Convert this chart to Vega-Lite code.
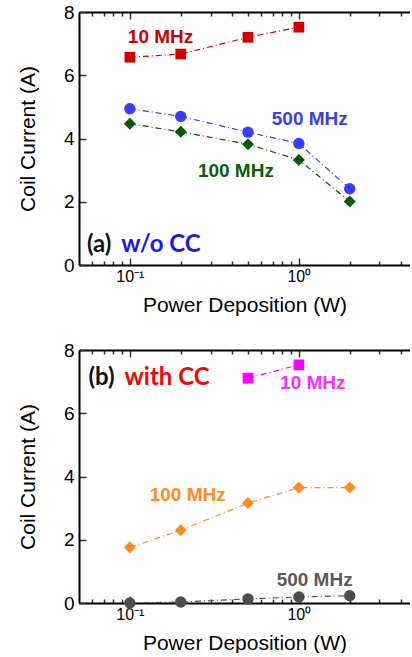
{
  "$schema": "https://vega.github.io/schema/vega-lite/v6.json",
  "padding": {"left": 17, "top": 3, "right": 0, "bottom": 0},
  "background": "white",
  "spacing": 85,
  "bounds": "flush",
  "config": {
    "view": {"stroke": null},
    "axis": {
      "grid": false,
      "domainColor": "black",
      "domainWidth": 2,
      "tickColor": "#333333",
      "tickWidth": 1.5,
      "labelFont": "Liberation Sans",
      "labelColor": "black",
      "titleFont": "Liberation Sans",
      "titleFontWeight": "normal",
      "titleColor": "black",
      "titleFontSize": 21
    },
    "text": {"font": "Liberation Sans"}
  },
  "datasets": {
    "series": [
      {"panel": "a", "series": "10 MHz", "power": 0.1, "current": 6.57},
      {"panel": "a", "series": "10 MHz", "power": 0.2, "current": 6.67},
      {"panel": "a", "series": "10 MHz", "power": 0.5, "current": 7.20},
      {"panel": "a", "series": "10 MHz", "power": 1.0, "current": 7.52},
      {"panel": "a", "series": "500 MHz", "power": 0.1, "current": 4.94},
      {"panel": "a", "series": "500 MHz", "power": 0.2, "current": 4.70},
      {"panel": "a", "series": "500 MHz", "power": 0.5, "current": 4.20},
      {"panel": "a", "series": "500 MHz", "power": 1.0, "current": 3.84},
      {"panel": "a", "series": "500 MHz", "power": 2.0, "current": 2.41},
      {"panel": "a", "series": "100 MHz", "power": 0.1, "current": 4.47},
      {"panel": "a", "series": "100 MHz", "power": 0.2, "current": 4.21},
      {"panel": "a", "series": "100 MHz", "power": 0.5, "current": 3.82},
      {"panel": "a", "series": "100 MHz", "power": 1.0, "current": 3.32},
      {"panel": "a", "series": "100 MHz", "power": 2.0, "current": 2.01},
      {"panel": "b", "series": "10 MHz", "power": 0.5, "current": 7.11},
      {"panel": "b", "series": "10 MHz", "power": 1.0, "current": 7.53},
      {"panel": "b", "series": "100 MHz", "power": 0.1, "current": 1.76},
      {"panel": "b", "series": "100 MHz", "power": 0.2, "current": 2.30},
      {"panel": "b", "series": "100 MHz", "power": 0.5, "current": 3.16},
      {"panel": "b", "series": "100 MHz", "power": 1.0, "current": 3.65},
      {"panel": "b", "series": "100 MHz", "power": 2.0, "current": 3.65},
      {"panel": "b", "series": "500 MHz", "power": 0.1, "current": 0.0},
      {"panel": "b", "series": "500 MHz", "power": 0.2, "current": 0.03},
      {"panel": "b", "series": "500 MHz", "power": 0.5, "current": 0.13},
      {"panel": "b", "series": "500 MHz", "power": 1.0, "current": 0.19},
      {"panel": "b", "series": "500 MHz", "power": 2.0, "current": 0.23}
    ],
    "labels": [
      {"panel": "a", "label": "10 MHz", "power": 0.152, "current": 7.2},
      {"panel": "a", "label": "500 MHz", "power": 1.16, "current": 4.63},
      {"panel": "a", "label": "100 MHz", "power": 0.424, "current": 2.97},
      {"panel": "b", "label": "10 MHz", "power": 1.21, "current": 6.95},
      {"panel": "b", "label": "100 MHz", "power": 0.22, "current": 3.4},
      {"panel": "b", "label": "500 MHz", "power": 1.24, "current": 0.72}
    ],
    "tags": [
      {"panel": "a", "tag": "(a)", "power": 0.0557, "current": 0.62},
      {"panel": "a", "tag": "w/o CC", "power": 0.0888, "current": 0.62},
      {"panel": "b", "tag": "(b)", "power": 0.0569, "current": 7.1},
      {"panel": "b", "tag": "with CC", "power": 0.093, "current": 7.1}
    ]
  },
  "vconcat": [
    {
      "width": 331,
      "height": 253,
      "resolve": {"scale": {"color": "independent", "shape": "independent"}, "axis": {"x": "independent"}},
      "layer": [
        {
          "data": {"name": "series"},
          "transform": [{"filter": "datum.panel === 'a'"}],
          "mark": {"type": "line", "strokeDash": [6, 3, 1, 3], "strokeWidth": 1.2},
          "encoding": {
            "x": {"field": "power", "type": "quantitative", "scale": {"type": "log", "domain": [0.05, 4.546], "nice": false},
              "axis": {"orient": "bottom", "title": "Power Deposition (W)", "values": [0.06, 0.07, 0.08, 0.09, 0.1, 0.2, 0.3, 0.4, 0.5, 0.6, 0.7, 0.8, 0.9, 1, 2, 3, 4],
                "labelExpr": "datum.value === 0.1 ? '10⁻¹' : (datum.value === 1 ? '10⁰' : '')",
                "tickSize": {"condition": {"test": "datum.value === 0.1 || datum.value === 1", "value": -7}, "value": -4},
                "labelFontSize": 16, "labelPadding": 10, "titlePadding": 7, "labelOverlap": false, "labelFlush": false}},
            "y": {"field": "current", "type": "quantitative", "scale": {"domain": [0, 8], "nice": false},
              "axis": {"title": "Coil Current (A)", "values": [0, 0.5, 1, 1.5, 2, 2.5, 3, 3.5, 4, 4.5, 5, 5.5, 6, 6.5, 7, 7.5, 8],
                "labelExpr": "datum.value % 2 === 0 ? datum.label : ''",
                "tickSize": {"condition": {"test": "datum.value % 2 === 0", "value": -7}, "value": -4},
                "labelFontSize": 19, "labelPadding": 12, "titlePadding": 25, "labelOverlap": false, "labelFlush": false}},
            "color": {"field": "series", "type": "nominal", "legend": null,
              "scale": {"domain": ["10 MHz", "500 MHz", "100 MHz"], "range": ["#d40000", "#3b3bff", "#005c00"]}}
          }
        },
        {
          "data": {"name": "series"},
          "transform": [{"filter": "datum.panel === 'a'"}],
          "mark": {"type": "point", "filled": true, "opacity": 1},
          "encoding": {
            "x": {"field": "power", "type": "quantitative", "axis": {"orient": "top", "title": null, "labels": false, "domainWidth": 2,
              "values": [0.06, 0.07, 0.08, 0.09, 0.1, 0.2, 0.3, 0.4, 0.5, 0.6, 0.7, 0.8, 0.9, 1, 2, 3, 4],
              "tickSize": {"condition": {"test": "datum.value === 0.1 || datum.value === 1", "value": -7}, "value": -4}}},
            "y": {"field": "current", "type": "quantitative"},
            "color": {"field": "series", "type": "nominal", "legend": null,
              "scale": {"domain": ["10 MHz", "500 MHz", "100 MHz"], "range": ["#d40000", "#3b3bff", "#005c00"]}},
            "shape": {"field": "series", "type": "nominal", "legend": null,
              "scale": {"domain": ["10 MHz", "500 MHz", "100 MHz"], "range": ["square", "circle", "diamond"]}},
            "size": {"field": "series", "type": "nominal", "legend": null,
              "scale": {"domain": ["10 MHz", "500 MHz", "100 MHz"], "range": [115, 144, 180]}}
          }
        },
        {
          "data": {"name": "labels"},
          "transform": [{"filter": "datum.panel === 'a'"}],
          "mark": {"type": "text", "font": "Liberation Sans", "fontWeight": "bold", "fontSize": 19, "align": "center", "baseline": "middle"},
          "encoding": {
            "x": {"field": "power", "type": "quantitative", "axis": null},
            "y": {"field": "current", "type": "quantitative"},
            "text": {"field": "label"},
            "color": {"field": "label", "type": "nominal", "legend": null,
              "scale": {"domain": ["10 MHz", "500 MHz", "100 MHz"], "range": ["#cc0000", "#3c3cf0", "#0b5e0b"]}}
          }
        },
        {
          "data": {"name": "tags"},
          "transform": [{"filter": "datum.panel === 'a'"}],
          "mark": {"type": "text", "font": "Lato", "fontWeight": "bold", "fontSize": 24, "align": "left", "baseline": "middle"},
          "encoding": {
            "x": {"field": "power", "type": "quantitative", "axis": null},
            "y": {"field": "current", "type": "quantitative"},
            "text": {"field": "tag"},
            "color": {"field": "tag", "type": "nominal", "legend": null,
              "scale": {"domain": ["(a)", "w/o CC"], "range": ["#111111", "#1a1aee"]}}
          }
        }
      ]
    },
    {
      "width": 331,
      "height": 253,
      "resolve": {"scale": {"color": "independent", "shape": "independent"}, "axis": {"x": "independent"}},
      "layer": [
        {
          "data": {"name": "series"},
          "transform": [{"filter": "datum.panel === 'b'"}],
          "mark": {"type": "line", "strokeDash": [6, 3, 1, 3], "strokeWidth": 1.2},
          "encoding": {
            "x": {"field": "power", "type": "quantitative", "scale": {"type": "log", "domain": [0.05, 4.546], "nice": false},
              "axis": {"orient": "bottom", "title": "Power Deposition (W)", "values": [0.06, 0.07, 0.08, 0.09, 0.1, 0.2, 0.3, 0.4, 0.5, 0.6, 0.7, 0.8, 0.9, 1, 2, 3, 4],
                "labelExpr": "datum.value === 0.1 ? '10⁻¹' : (datum.value === 1 ? '10⁰' : '')",
                "tickSize": {"condition": {"test": "datum.value === 0.1 || datum.value === 1", "value": -7}, "value": -4},
                "labelFontSize": 16, "labelPadding": 10, "titlePadding": 7, "labelOverlap": false, "labelFlush": false}},
            "y": {"field": "current", "type": "quantitative", "scale": {"domain": [0, 8], "nice": false},
              "axis": {"title": "Coil Current (A)", "values": [0, 0.5, 1, 1.5, 2, 2.5, 3, 3.5, 4, 4.5, 5, 5.5, 6, 6.5, 7, 7.5, 8],
                "labelExpr": "datum.value % 2 === 0 ? datum.label : ''",
                "tickSize": {"condition": {"test": "datum.value % 2 === 0", "value": -7}, "value": -4},
                "labelFontSize": 19, "labelPadding": 12, "titlePadding": 25, "labelOverlap": false, "labelFlush": false}},
            "color": {"field": "series", "type": "nominal", "legend": null,
              "scale": {"domain": ["10 MHz", "100 MHz", "500 MHz"], "range": ["#ff00ff", "#ff8c1a", "#4d4d4d"]}}
          }
        },
        {
          "data": {"name": "series"},
          "transform": [{"filter": "datum.panel === 'b'"}],
          "mark": {"type": "point", "filled": true, "opacity": 1},
          "encoding": {
            "x": {"field": "power", "type": "quantitative", "axis": {"orient": "top", "title": null, "labels": false, "domainWidth": 2,
              "values": [0.06, 0.07, 0.08, 0.09, 0.1, 0.2, 0.3, 0.4, 0.5, 0.6, 0.7, 0.8, 0.9, 1, 2, 3, 4],
              "tickSize": {"condition": {"test": "datum.value === 0.1 || datum.value === 1", "value": -7}, "value": -4}}},
            "y": {"field": "current", "type": "quantitative"},
            "color": {"field": "series", "type": "nominal", "legend": null,
              "scale": {"domain": ["10 MHz", "100 MHz", "500 MHz"], "range": ["#ff00ff", "#ff8c1a", "#4d4d4d"]}},
            "shape": {"field": "series", "type": "nominal", "legend": null,
              "scale": {"domain": ["10 MHz", "100 MHz", "500 MHz"], "range": ["square", "diamond", "circle"]}},
            "size": {"field": "series", "type": "nominal", "legend": null,
              "scale": {"domain": ["10 MHz", "100 MHz", "500 MHz"], "range": [115, 180, 144]}}
          }
        },
        {
          "data": {"name": "labels"},
          "transform": [{"filter": "datum.panel === 'b'"}],
          "mark": {"type": "text", "font": "Liberation Sans", "fontWeight": "bold", "fontSize": 19, "align": "center", "baseline": "middle"},
          "encoding": {
            "x": {"field": "power", "type": "quantitative", "axis": null},
            "y": {"field": "current", "type": "quantitative"},
            "text": {"field": "label"},
            "color": {"field": "label", "type": "nominal", "legend": null,
              "scale": {"domain": ["10 MHz", "100 MHz", "500 MHz"], "range": ["#ff2bff", "#ff8c1a", "#5a5a5a"]}}
          }
        },
        {
          "data": {"name": "tags"},
          "transform": [{"filter": "datum.panel === 'b'"}],
          "mark": {"type": "text", "font": "Lato", "fontWeight": "bold", "fontSize": 24, "align": "left", "baseline": "middle"},
          "encoding": {
            "x": {"field": "power", "type": "quantitative", "axis": null},
            "y": {"field": "current", "type": "quantitative"},
            "text": {"field": "tag"},
            "color": {"field": "tag", "type": "nominal", "legend": null,
              "scale": {"domain": ["(b)", "with CC"], "range": ["#111111", "#ff0000"]}}
          }
        }
      ]
    }
  ]
}
